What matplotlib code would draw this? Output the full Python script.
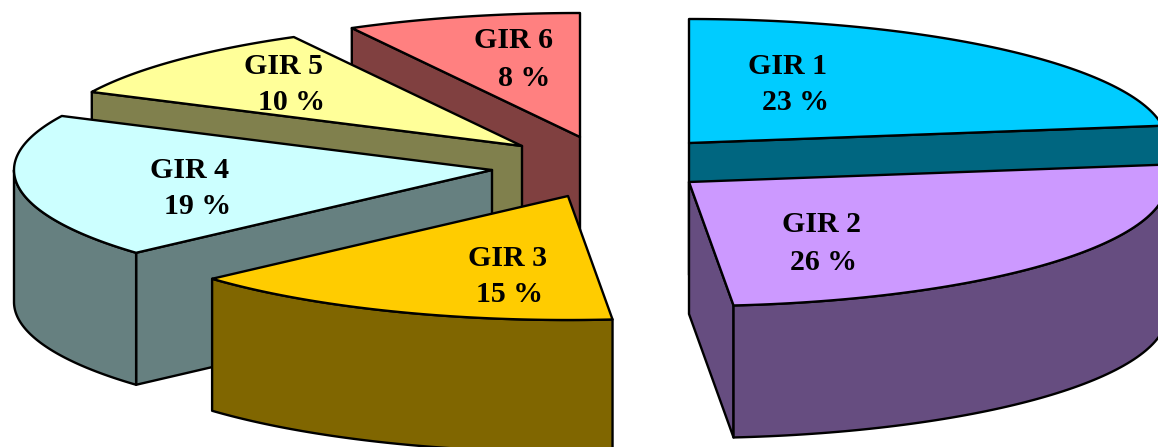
import matplotlib.pyplot as plt
from matplotlib.patches import Polygon
import numpy as np

names = ["GIR 1", "GIR 2", "GIR 3", "GIR 4", "GIR 5", "GIR 6"]
shares = [23, 26, 15, 19, 10, 8]
colors = ["#00CCFF", "#CC99FF", "#FFCC00", "#CCFFFF", "#FFFF99", "#FF8080"]

# where each exploded slice has its apex, in pixels
apex_x = [689, 689, 568, 492, 522, 580]
apex_y = [143, 182, 196, 170, 146, 137]
name_pos = [(787, 66), (822, 225), (508, 258), (190, 170), (283, 66), (514, 41)]
pct_pos = [(795, 103), (823, 263), (509, 295), (198, 207), (292, 103), (524, 79)]

RX, RY, DEPTH = 478, 124, 132
draw_order = [5, 4, 3, 0, 1, 2]


def rim(cx, cy, a, b):
    # clockwise from 12 o'clock, squashed to an ellipse
    t = np.radians(np.linspace(a, b, 80))
    return cx + RX * np.sin(t), cy - RY * np.cos(t)


def add_poly(ax, xs, ys, color):
    pts = np.column_stack([xs, ys])
    ax.add_patch(Polygon(pts, closed=True, facecolor=color, edgecolor="black",
                         linewidth=1.7, joinstyle="round"))


def side_face(ax, cx, cy, angle, color):
    x, y = rim(cx, cy, angle, angle)
    ex, ey = x[0], y[0]
    add_poly(ax, [cx, ex, ex, cx], [cy, ey, ey + DEPTH, cy + DEPTH], color)


fig = plt.figure(figsize=(11.58, 4.47), dpi=100)
ax = fig.add_axes([0, 0, 1, 1])
ax.set_xlim(0, 1158)
ax.set_ylim(447, 0)
ax.axis("off")

edges = np.cumsum([0] + shares) / sum(shares) * 360

for i in draw_order:
    a, b = edges[i], edges[i + 1]
    cx, cy = apex_x[i], apex_y[i]
    top = np.array(plt.matplotlib.colors.to_rgb(colors[i]))
    dark = top * 0.5

    # cut faces turned towards the viewer
    if np.sin(np.radians(a)) < -1e-6:
        side_face(ax, cx, cy, a, dark)
    if np.sin(np.radians(b)) > 1e-6:
        side_face(ax, cx, cy, b, dark)

    # outer wall, only the front half of the rim shows
    lo, hi = max(a, 90), min(b, 270)
    if lo < hi:
        x, y = rim(cx, cy, lo, hi)
        add_poly(ax, np.r_[x, x[::-1]], np.r_[y, y[::-1] + DEPTH], dark)

    x, y = rim(cx, cy, a, b)
    add_poly(ax, np.r_[cx, x], np.r_[cy, y], top)

for i in range(len(names)):
    ax.text(name_pos[i][0], name_pos[i][1], names[i], ha="center", va="center",
            family="Liberation Serif", weight="bold", fontsize=21.5)
    ax.text(pct_pos[i][0], pct_pos[i][1], f"{shares[i]} %", ha="center", va="center",
            family="Liberation Serif", weight="bold", fontsize=21.5)

plt.savefig("out.png", dpi=100)
plt.close()
